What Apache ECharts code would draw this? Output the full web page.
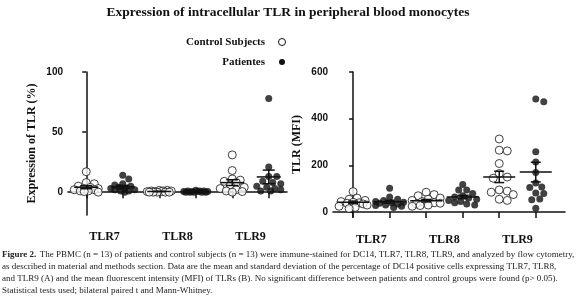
<!DOCTYPE html>
<html><head><meta charset="utf-8">
<script src="https://cdn.jsdelivr.net/npm/echarts@6/dist/echarts.min.js"></script>
<style>html,body{margin:0;padding:0;background:#fff}#c{width:576px;height:297px}</style>
</head><body><div id="c"></div>
<script>
// ---- data ----
const categories = ['TLR7', 'TLR8', 'TLR9'];
const legendNames = ['Control Subjects', 'Patientes'];
const pctTicks = [0, 50, 100];
const mfiTicks = [0, 200, 400, 600];
// Expression of TLR (%)
const pctControlTLR7 = [17, 8, 7, 5, 4, 3, 3, 2, 2, 1, 1, 0.5, 0];
const pctPatientTLR7 = [14, 11, 7, 6, 5, 4, 3, 3, 2, 2, 1, 1, 0];
const pctControlTLR8 = [1.5, 1.5, 1, 1, 1, 0.5, 0.5, 0.5, 0, 0, 0, 0, 0];
const pctPatientTLR8 = [1.5, 1, 1, 1, 0.5, 0.5, 0.5, 0.5, 0, 0, 0, 0, 0];
const pctControlTLR9 = [31, 18, 11, 10, 9, 8, 6, 4, 3, 2, 1, 0.5, 0];
const pctPatientTLR9 = [78, 21, 13, 13, 9, 8, 7, 5, 4, 3, 2, 1, 1];
// TLR (MFI)
const mfiControlTLR7 = [88, 60, 55, 50, 45, 42, 40, 38, 35, 30, 25, 20, 15];
const mfiPatientTLR7 = [102, 65, 55, 50, 45, 42, 40, 38, 35, 30, 28, 25, 20];
const mfiControlTLR8 = [85, 75, 70, 60, 55, 50, 45, 40, 38, 35, 30, 28, 25];
const mfiPatientTLR8 = [118, 95, 95, 80, 70, 65, 60, 55, 50, 45, 40, 35, 30];
const mfiControlTLR9 = [313, 265, 262, 208, 165, 150, 145, 95, 90, 85, 75, 55, 50];
const mfiPatientTLR9 = [484, 473, 258, 215, 170, 125, 108, 105, 82, 80, 56, 53, 17];

const caption = [
  'The PBMC (n = 13) of patients and control subjects (n = 13) were immune-stained for DC14, TLR7, TLR8, TLR9, and analyzed by flow cytometry,',
  'as described in material and methods section. Data are the mean and standard deviation of the percentage of DC14 positive cells expressing TLR7, TLR8,',
  'and TLR9 (A) and the mean fluorescent intensity (MFI) of TLRs (B). No significant difference between patients and control groups were found (p> 0.05).',
  'Statistical tests used; bilateral paired t and Mann-Whitney.'
];

// ---- layout helpers ----
const L = {left: 68, top: 72, width: 219, height: 143, ymin: -19, ymax: 100, xmin: -0.5, xmax: 5.5};
const R = {left: 333, top: 72, width: 232, height: 145, ymin: -21, ymax: 600, xmin: -0.55, xmax: 5.8};

// deterministic beeswarm-like spread (pixel space), allowing overlap, limited width
function swarm(values, idx, P, minDist, maxOff) {
  const pyu = P.height / (P.ymax - P.ymin);
  const pxu = P.width / (P.xmax - P.xmin);
  const placed = [];
  const sorted = values.slice().sort((a, b) => b - a);
  const out = [];
  const cands = [0];
  for (let s = 2; s <= maxOff; s += 2) { cands.push(s, -s); }
  sorted.forEach((v, n) => {
    let best = null, bestScore = Infinity;
    for (const c of cands) {
      let worst = Infinity;
      for (const p of placed) {
        const dx = c - p[0], dy = (v - p[1]) * pyu;
        worst = Math.min(worst, Math.sqrt(dx * dx + dy * dy));
      }
      if (worst >= minDist) { best = c; break; }
      const score = -worst;
      if (score < bestScore) { bestScore = score; best = c; }
    }
    placed.push([best, v]);
    out.push([idx + best / pxu, v]);
  });
  return out;
}
function stats(values, idx) {
  const n = values.length;
  const m = values.reduce((a, b) => a + b, 0) / n;
  const sd = Math.sqrt(values.reduce((a, b) => a + (b - m) * (b - m), 0) / (n - 1));
  const se = sd / Math.sqrt(n);
  return [idx, m, m - se, m + se];
}

const pctGroups = [pctControlTLR7, pctPatientTLR7, pctControlTLR8, pctPatientTLR8, pctControlTLR9, pctPatientTLR9];
const mfiGroups = [mfiControlTLR7, mfiPatientTLR7, mfiControlTLR8, mfiPatientTLR8, mfiControlTLR9, mfiPatientTLR9];

function scatterSeries(groups, P, xi, yi, diamC, diamP, maxOff) {
  const ctrl = [], pat = [];
  groups.forEach((g, i) => {
    if (i % 2 === 0) ctrl.push(...swarm(g, i, P, diamC * 0.95, maxOff));
    else pat.push(...swarm(g, i, P, diamP * 0.95, maxOff));
  });
  return [
    {type: 'scatter', name: legendNames[0], xAxisIndex: xi, yAxisIndex: yi, data: ctrl, symbol: 'circle', symbolSize: diamC,
     itemStyle: {color: '#fff', borderColor: '#111', borderWidth: 1}, z: 3, silent: true},
    {type: 'scatter', name: legendNames[1], xAxisIndex: xi, yAxisIndex: yi, data: pat, symbol: 'circle', symbolSize: diamP,
     itemStyle: {color: '#111'}, z: 3, silent: true}
  ];
}
function meanSeries(groups, xi, yi, halfW, capW) {
  return {
    type: 'custom', xAxisIndex: xi, yAxisIndex: yi, z: 5, silent: true,
    data: groups.map((g, i) => stats(g, i)),
    renderItem: function (params, api) {
      const x = api.value(0);
      const pm = api.coord([x, api.value(1)]);
      const pl = api.coord([x, api.value(2)]);
      const ph = api.coord([x, api.value(3)]);
      const st = {stroke: '#111', lineWidth: 1.5};
      return {type: 'group', children: [
        {type: 'line', shape: {x1: pm[0] - halfW, y1: pm[1], x2: pm[0] + halfW, y2: pm[1]}, style: st},
        {type: 'line', shape: {x1: pm[0], y1: pl[1], x2: pm[0], y2: ph[1]}, style: st},
        {type: 'line', shape: {x1: pm[0] - capW, y1: pl[1], x2: pm[0] + capW, y2: pl[1]}, style: st},
        {type: 'line', shape: {x1: pm[0] - capW, y1: ph[1], x2: pm[0] + capW, y2: ph[1]}, style: st}
      ]};
    }
  };
}

const serif = '"Liberation Serif", "DejaVu Serif", serif';
const sans = '"Liberation Sans", Arial, sans-serif';
const axLine = {show: true, lineStyle: {color: '#111', width: 1.5}};

function xAxisFor(P, gi, labelMargin) {
  return {
    type: 'value', gridIndex: gi, min: P.xmin, max: P.xmax,
    axisLine: axLine, splitLine: {show: false},
    axisTick: {show: true, length: 6, lineStyle: {color: '#111', width: 1.5}, customValues: [0, 1, 2, 3, 4, 5]},
    axisLabel: {show: true, customValues: [0.5, 2.5, 4.5], margin: labelMargin,
      formatter: v => categories[Math.round((v - 0.5) / 2)],
      fontFamily: serif, fontSize: 12, fontWeight: 'bold', color: '#111'}
  };
}
function yAxisFor(P, gi, ticks, name, nameGap) {
  return {
    type: 'value', gridIndex: gi, min: P.ymin, max: P.ymax,
    name: name, nameLocation: 'middle', nameRotate: 90, nameGap: nameGap,
    nameTextStyle: {fontFamily: serif, fontSize: 12, fontWeight: 'bold', color: '#111'},
    axisLine: axLine, splitLine: {show: false},
    axisTick: {show: true, length: 4, lineStyle: {color: '#111', width: 1.5}, customValues: ticks},
    axisLabel: {show: true, customValues: ticks, margin: 5, fontFamily: sans, fontSize: 10, fontWeight: 'bold', color: '#111'}
  };
}

const chart = echarts.init(document.getElementById('c'), null, {renderer: 'canvas'});
const graphics = [
  {type: 'text', left: 'center', top: 6, style: {text: 'Expression of intracellular TLR in peripheral blood monocytes',
    font: 'bold 13.5px ' + serif, fill: '#111'}},
  {type: 'text', x: 265, y: 42, style: {text: legendNames[0], font: 'bold 11px ' + serif, fill: '#111', align: 'right', verticalAlign: 'middle'}},
  {type: 'circle', shape: {cx: 282, cy: 42, r: 3.5}, style: {fill: '#fff', stroke: '#111', lineWidth: 1}},
  {type: 'text', x: 265, y: 62, style: {text: legendNames[1], font: 'bold 11px ' + serif, fill: '#111', align: 'right', verticalAlign: 'middle'}},
  {type: 'circle', shape: {cx: 282, cy: 62, r: 3}, style: {fill: '#111'}},
  {type: 'text', x: 2, y: 255, style: {rich: {b: {font: 'bold 9px ' + serif, fill: '#222'}, n: {font: '9px ' + serif, fill: '#222'}},
    text: '{b|Figure 2.} {n|' + caption[0] + '}', verticalAlign: 'middle'}},
];
for (let i = 1; i < caption.length; i++) {
  graphics.push({type: 'text', x: 2, y: 255 + 12 * i, style: {text: caption[i], font: '9px ' + serif, fill: '#222', verticalAlign: 'middle'}});
}

chart.setOption({
  animation: false,
  backgroundColor: '#fff',
  grid: [
    {left: L.left, top: L.top, width: L.width, height: L.height},
    {left: R.left, top: R.top, width: R.width, height: R.height}
  ],
  xAxis: [xAxisFor(L, 0, 16), xAxisFor(R, 1, 17)],
  yAxis: [yAxisFor(L, 0, pctTicks, 'Expression of TLR (%)', 30), yAxisFor(R, 1, mfiTicks, 'TLR (MFI)', 30)],
  series: [
    ...scatterSeries(pctGroups, L, 0, 0, 8, 7, 12),
    meanSeries(pctGroups, 0, 0, 12, 6),
    ...scatterSeries(mfiGroups, R, 1, 1, 8, 7, 14),
    meanSeries(mfiGroups, 1, 1, 16, 5)
  ],
  graphic: graphics
});
</script>
</body></html>
